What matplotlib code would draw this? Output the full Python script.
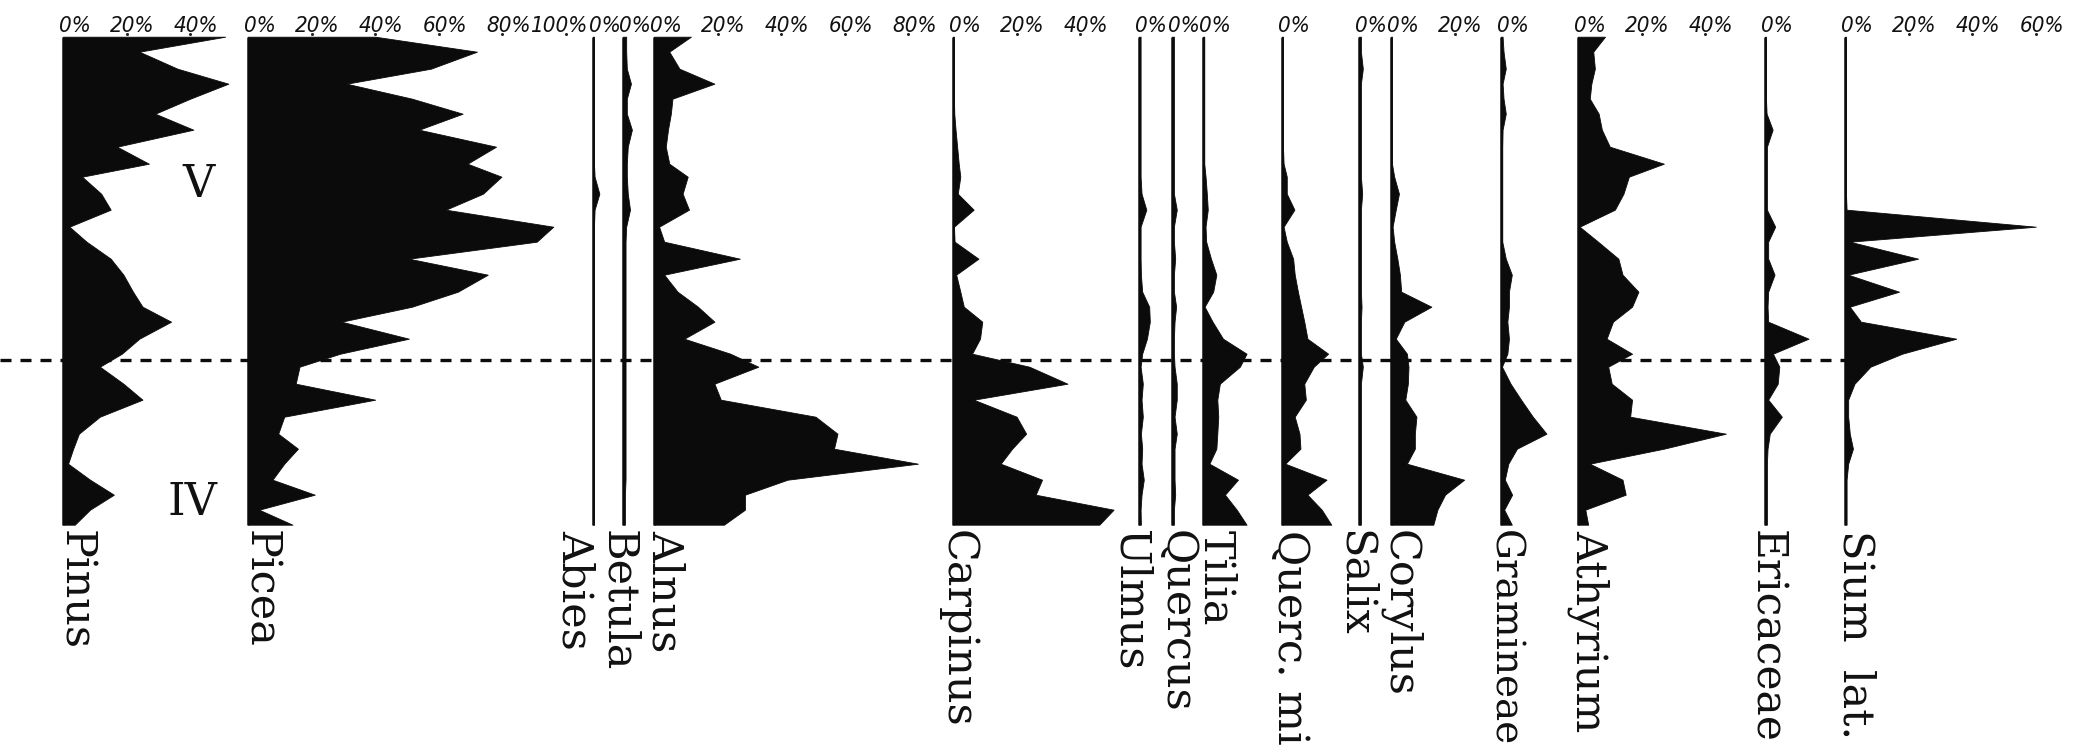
import matplotlib
matplotlib.use("Agg")
import matplotlib.pyplot as plt
import numpy as np

# ---------------- data (percent values per sample level) ----------------
DEPTH = [0, 15, 32, 47, 62, 77, 93, 110, 127, 140, 157, 173, 190, 205, 222, 238,
         255, 270, 285, 302, 317, 330, 347, 363, 380, 397, 412, 427, 443, 458, 473, 488]

PINUS = [51, 24, 36, 52, 40, 29, 41, 17, 27, 6, 12, 15, 2, 7.4, 15, 19,
         22, 25, 34, 24, 18.5, 11.6, 19, 25, 11.6, 5, 3.2, 1.6, 8.5, 16, 8.5, 3.7]
PICEA = [40, 72, 57.5, 31, 51.6, 67.5, 53.8, 78, 69, 79.7, 73.9, 62.2, 96, 90.8, 50.6, 75.4,
         66, 51.6, 29.4, 50.6, 29, 16.2, 15, 40, 11.4, 9.5, 15.7, 11.4, 7.7, 21, 3.5, 14]
ABIES = [0.3, 0.3, 0.3, 0.3, 0.3, 0.3, 0.3, 0.3, 0.3, 0.5, 2.0, 0.5, 0.3, 0.3, 0.3, 0.3,
         0.3, 0.3, 0.3, 0.3, 0.3, 0.3, 0.3, 0.3, 0.3, 0.3, 0.3, 0.3, 0.3, 0.3, 0.3, 0.3]
BETULA = [1.0, 1.0, 1.2, 2.5, 1.2, 1.2, 2.8, 1.5, 1.2, 1.2, 1.5, 2.2, 1.0, 0.8, 0.8, 0.8,
          0.8, 0.8, 0.8, 0.8, 0.8, 0.8, 0.8, 0.8, 0.8, 0.8, 0.8, 0.8, 0.8, 0.6, 0.6, 0.6]
ALNUS = [11.6, 4.8, 8, 19, 5.8, 5.3, 4.4, 3.7, 4.8, 10.6, 9, 11, 1.6, 3.2, 27, 3.2,
         7.4, 13.8, 19, 9.5, 24, 32.8, 19, 21, 50.8, 57.7, 56.6, 83, 42, 28.6, 28.6, 22]
CARPINUS = [0.3, 0.3, 0.3, 0.3, 0.3, 0.4, 0.8, 1.3, 1.8, 2.3, 1.5, 6.5, 0.3, 0.5, 8, 1,
            2.3, 3.4, 9.2, 8.5, 6, 24, 36, 6.5, 20, 23, 18.6, 15, 28, 26, 50.5, 46]
ULMUS = [0.5, 0.5, 0.5, 0.5, 0.5, 0.5, 0.5, 0.5, 0.5, 0.5, 0.8, 2.3, 0.5, 0.5, 0.5, 0.6,
         1.0, 3.2, 3.4, 2.5, 1.0, 0.5, 1.2, 0.8, 1.2, 0.6, 1.0, 0.8, 1.5, 0.8, 0.5, 0.6]
QUERCUS = [0.6, 0.6, 0.6, 0.6, 0.6, 0.6, 0.6, 0.6, 0.6, 0.6, 0.6, 1.5, 0.6, 0.6, 1.0, 0.6,
           0.6, 1.3, 0.8, 0.6, 0.6, 0.8, 1.5, 1.5, 0.8, 1.5, 0.8, 0.8, 0.8, 1.0, 0.6, 0.6]
TILIA = [0.4, 0.4, 0.4, 0.4, 0.4, 0.4, 0.4, 0.4, 0.4, 0.8, 1.2, 1.5, 0.8, 1.0, 2.5, 4.2,
         3.2, 0.5, 3.0, 6.3, 13.7, 11.6, 5.3, 4.5, 4.8, 4.5, 4.2, 2.0, 11.0, 6.9, 10.6, 13.7]
QUERC_MIX = [0.3, 0.3, 0.3, 0.3, 0.3, 0.3, 0.3, 0.3, 0.5, 1.5, 1.5, 3.9, 0.5, 1.5, 3.5, 4.0,
             5.0, 6.0, 7.0, 8.0, 14.5, 10.0, 7.0, 7.5, 4.0, 5.5, 5.8, 1.0, 14.0, 8.0, 12.5, 15.5]
SALIX = [0.6, 0.6, 1.2, 0.6, 0.6, 0.6, 0.6, 0.6, 0.6, 0.6, 1.0, 0.6, 0.6, 0.6, 0.6, 0.6,
         0.6, 0.8, 0.6, 0.6, 0.6, 1.2, 0.6, 0.6, 0.6, 0.6, 0.6, 0.6, 0.6, 0.6, 0.6, 0.6]
CORYLUS = [0.3, 0.3, 0.3, 0.3, 0.3, 0.3, 0.3, 0.3, 0.3, 1.0, 2.5, 1.5, 0.5, 1.0, 2.0, 2.8,
           3.2, 12.7, 4.2, 1.5, 5.0, 5.5, 5.3, 4.5, 8.0, 7.5, 7.5, 5.0, 23.0, 17.0, 14.6, 13.3]
GRAMINEAE = [0.5, 0.8, 1.5, 0.5, 0.8, 1.5, 0.5, 0.4, 0.4, 0.4, 0.4, 0.4, 0.4, 0.4, 1.5, 3.4,
             2.5, 2.5, 2.0, 2.5, 2.0, 0.3, 3.0, 6.3, 10.0, 14.3, 5.0, 2.3, 1.2, 3.5, 1.0, 3.4]
ATHYRIUM = [8.5, 4.8, 5.3, 4.2, 3.7, 6.5, 7.5, 10.0, 27.0, 16.0, 14.3, 11.6, 0.5, 6.3, 12.7, 14.0,
            19.0, 17.0, 11.0, 9.0, 17.0, 9.5, 10.6, 17.0, 16.4, 46.5, 27.0, 3.7, 14.0, 15.0, 2.3, 3.2]
ERICACEAE = [0.3, 0.3, 0.3, 0.3, 0.3, 0.5, 2.4, 0.6, 0.6, 0.6, 0.6, 0.6, 3.2, 1.0, 1.0, 3.0,
             1.0, 0.8, 1.0, 13.7, 2.5, 4.5, 4.0, 1.0, 5.3, 1.5, 0.8, 0.6, 0.6, 0.6, 0.6, 0.6]
SIUM = [0.3, 0.3, 0.3, 0.3, 0.3, 0.3, 0.3, 0.3, 0.3, 0.3, 0.3, 0.5, 60.0, 1.5, 23.0, 1.0,
        17.0, 1.5, 5.0, 35.0, 18.0, 8.0, 3.0, 1.0, 1.0, 1.5, 2.5, 1.0, 0.5, 0.5, 0.5, 0.5]

TAXA = ["Pinus", "Picea", "Abies", "Betula", "Alnus", "Carpinus", "Ulmus", "Quercus",
        "Tilia", "Querc. mi", "Salix", "Corylus", "Gramineae", "Athyrium", "Ericaceae",
        "Sium  lat."]
SERIES = [PINUS, PICEA, ABIES, BETULA, ALNUS, CARPINUS, ULMUS, QUERCUS, TILIA, QUERC_MIX,
          SALIX, CORYLUS, GRAMINEAE, ATHYRIUM, ERICACEAE, SIUM]
TICKS = [[0, 20, 40], [0, 20, 40, 60, 80, 100], [0], [0], [0, 20, 40, 60, 80], [0, 20, 40],
         [0], [0], [0], [0], [0], [0, 20], [0], [0, 20, 40], [0], [0, 20, 40, 60]]
ZONES = ["V", "IV"]
ZONE_DEPTH = [160, 478]
BOUNDARY_DEPTH = 323

# ---------------- layout ----------------
W, H = 2081, 747
PX = 3.18            # pixels per 1 %
TOP = 36.7           # pixel row of depth 0
BASE_PX = [63, 248, 593, 623, 654, 953, 1139, 1172, 1203, 1282, 1359, 1391, 1501, 1578, 1765, 1845]
LABEL_RIGHT_PX = [96, 281, 596, 639, 686, 979, 1152, 1198, 1237, 1311, 1376, 1421, 1522, 1610, 1787, 1876]
LABEL_SIZE = [31, 31, 31, 31, 31, 31, 31, 31, 31, 31, 31, 31, 28, 31, 30.5, 31]
ZONE_X_PX = [198, 192]
TICK_RIGHT_OFFSET_PX = 28
WIDE_TICK_OFFSET_PX = 21   # 3-digit labels sit more centred on their tick

INK = "#0b0b0b"
fig = plt.figure(figsize=(W / 100, H / 100), dpi=100)
ax = fig.add_axes([0, 0, 1, 1])
ax.set_xlim(0, W / PX)
ax.set_ylim(H - TOP, -TOP)
ax.axis("off")

depth = np.asarray(DEPTH, dtype=float)
for name, vals, ticks, bpx, lpx, lsz in zip(TAXA, SERIES, TICKS, BASE_PX, LABEL_RIGHT_PX, LABEL_SIZE):
    b = bpx / PX
    v = np.asarray(vals, dtype=float)
    ax.fill_betweenx(depth, b, b + v, facecolor=INK, edgecolor=INK, linewidth=0.6, zorder=2)
    ax.vlines(b, depth[0], depth[-1], color=INK, lw=1.8, zorder=3)
    for t in ticks:
        off = WIDE_TICK_OFFSET_PX if t >= 100 else TICK_RIGHT_OFFSET_PX
        ax.text(b + t + off / PX, -4.7, f"{t}%", ha="right", va="baseline",
                fontsize=16, style="italic", stretch="condensed",
                family="DejaVu Sans", color="#111111")
        if t > 0:
            ax.plot([b + t], [-2.5], "o", ms=2.2, color="#222222", mec="none")
    ax.text(lpx / PX, 530 - TOP, name, rotation=270, ha="right", va="top",
            fontsize=lsz, family="DejaVu Serif", color="#111111")

ax.hlines(BOUNDARY_DEPTH, 0, BASE_PX[-1] / PX, colors=INK, lw=2.4,
          linestyles=(0, (3.3, 2.7)), zorder=4)

for z, zd, zx in zip(ZONES, ZONE_DEPTH, ZONE_X_PX):
    ax.text(zx / PX, zd, z, ha="center", va="baseline", fontsize=32,
            family="DejaVu Serif", color="#111111")

fig.savefig("out.png", dpi=100, facecolor="white")
